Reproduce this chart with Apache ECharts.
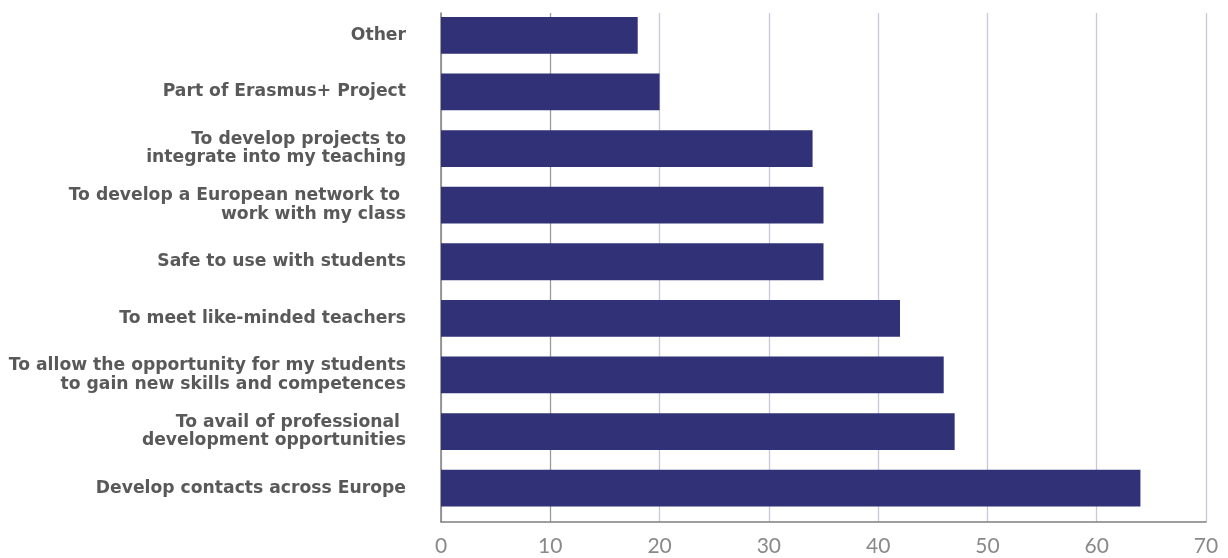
<!DOCTYPE html>
<html>
<head>
<meta charset="utf-8">
<script src="https://cdn.jsdelivr.net/npm/echarts@6/dist/echarts.min.js"></script>
<style>
  html, body { margin: 0; padding: 0; background: #ffffff; }
  #chart { width: 1228px; height: 558px; }
</style>
</head>
<body>
<div id="chart"></div>
<script>
// Reasons for taking part, listed top to bottom
const categories = [
  'Other',
  'Part of Erasmus+ Project',
  'To develop projects to\nintegrate into my teaching',
  'To develop a European network to \nwork with my class',
  'Safe to use with students',
  'To meet like-minded teachers',
  'To allow the opportunity for my students\nto gain new skills and competences',
  'To avail of professional \ndevelopment opportunities',
  'Develop contacts across Europe'
];
const responses = [18, 20, 34, 35, 35, 42, 46, 47, 64];
const xTicks = { min: 0, max: 70, interval: 10 };

// Split line colours by tick (0, 10, 20, ... 70)
const splitColors = ['#c9c6dd', '#9a9a9a', '#c9c6dd', '#c9c6dd', '#c9c6dd', '#c9c6dd', '#c9c6dd', '#c9c6dd'];

const chart = echarts.init(document.getElementById('chart'));
chart.setOption({
  animation: false,
  backgroundColor: '#ffffff',
  grid: [
    // frame: axis lines, value labels and gridlines
    { left: 441, right: 22, top: 13, bottom: 36, containLabel: false },
    // bars and category labels
    { left: 441, right: 22, top: 7, bottom: 41.5, containLabel: false }
  ],
  xAxis: [{
    type: 'value',
    gridIndex: 0,
    min: xTicks.min,
    max: xTicks.max,
    interval: xTicks.interval,
    axisLine: { show: true, lineStyle: { color: '#7f7f7f', width: 1.5 } },
    axisTick: { show: false },
    axisLabel: {
      color: '#898989',
      fontFamily: 'Lato',
      fontSize: 21,
      margin: 14
    },
    splitLine: { show: true, lineStyle: { color: splitColors, width: 1.3 } }
  }, {
    type: 'value',
    gridIndex: 1,
    min: xTicks.min,
    max: xTicks.max,
    interval: xTicks.interval,
    show: false
  }],
  yAxis: [{
    type: 'value',
    gridIndex: 0,
    min: 0,
    max: 1,
    axisLine: { show: true, lineStyle: { color: '#7f7f7f', width: 1.5 } },
    axisTick: { show: false },
    axisLabel: { show: false },
    splitLine: { show: false }
  }, {
    type: 'category',
    gridIndex: 1,
    inverse: true,
    data: categories,
    axisLine: { show: false },
    axisTick: { show: false },
    axisLabel: {
      color: '#595959',
      fontFamily: 'DejaVu Sans',
      fontWeight: 'bold',
      fontSize: 17.2,
      lineHeight: 18.5,
      margin: 35,
      align: 'right'
    }
  }],
  series: [{
    type: 'bar',
    xAxisIndex: 1,
    yAxisIndex: 1,
    data: responses,
    barCategoryGap: '35%',
    itemStyle: { color: '#313177' }
  }]
});
</script>
</body>
</html>
